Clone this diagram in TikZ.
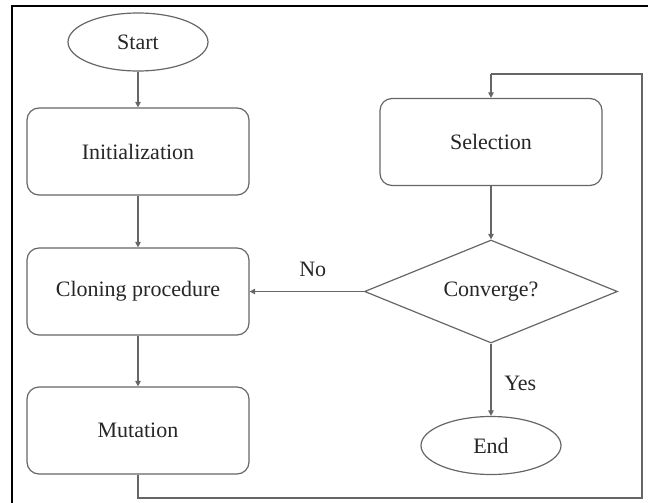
\documentclass[tikz,border=0pt]{standalone}
\usepackage{fontspec}
\setmainfont{Liberation Serif}
\usetikzlibrary{shapes.geometric,arrows.meta}
\begin{document}
\begin{tikzpicture}[x=0.5pt,y=-0.5pt,
  every node/.style={font=\fontsize{11}{13}\selectfont, text=black!85},
  proc/.style={draw=black!60, line width=0.6pt, rounded corners=6pt, minimum width=111pt, minimum height=43.5pt, inner sep=0pt},
  term/.style={draw=black!60, line width=0.6pt, ellipse, minimum width=70pt, minimum height=29pt, inner sep=0pt},
  decide/.style={draw=black!60, line width=0.6pt, diamond, aspect=2.5, minimum width=126.5pt, minimum height=51.5pt, inner sep=0pt},
  conn/.style={draw=black!60, line width=0.6pt, -{Triangle[length=2.8pt,width=2.8pt]}},
  plainconn/.style={draw=black!60, line width=0.6pt},
  frame/.style={draw=black, line width=1.1pt}
]
\useasboundingbox (0,0) rectangle (648,503);
% frame (top and left edges)
\coordinate (fTL) at (12,6);
\coordinate (fTR) at (648,6);
\coordinate (fBL) at (12,503);
\draw[frame] (fTR) -- (fTL) -- (fBL);

\node[term] (start) at (138,42) {Start};
\node[proc] (init) at (138,151.5) {Initialization};
\node[proc] (clone) at (138,291.5) {Cloning procedure};
\node[proc] (mut) at (138,430.5) {Mutation};
\node[proc] (sel) at (491,142) {Selection};
\node[decide] (conv) at (491,291.5) {Converge?};
\node[term] (end) at (491,445.5) {End};

\coordinate (l1) at (138,498);
\coordinate (l2) at (642,498);
\coordinate (l3) at (642,74);
\coordinate (l4) at (491,74);

\draw[conn] (start) -- (init);
\draw[conn] (init) -- (clone);
\draw[conn] (clone) -- (mut);
\draw[plainconn] (mut.south) -- (l1) -- (l2) -- (l3) -- (l4);
\draw[conn] (l4) -- (sel.north);
\draw[conn] (sel) -- (conv);
\draw[conn] (conv) -- node[above=4pt, xshift=3pt] (nolab) {No} (clone);
\draw[conn] (conv) -- node[right=3pt, yshift=-2pt] (yeslab) {Yes} (end);
\end{tikzpicture}
\end{document}
